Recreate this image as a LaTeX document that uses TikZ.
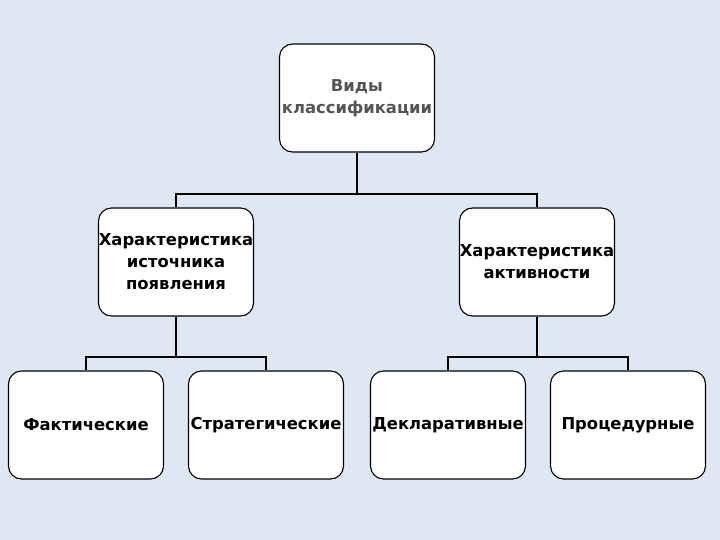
\documentclass[tikz,border=0pt]{standalone}
\usepackage{fontspec}
\setmainfont{DejaVu Sans}
\definecolor{bgblue}{RGB}{223,231,243}
\definecolor{topgray}{RGB}{85,85,85}
\begin{document}
\begin{tikzpicture}[x=1pt,y=-1pt,
  box/.style={draw=black, line width=1.1pt, fill=white, rounded corners=13pt,
    minimum width=155pt, minimum height=108pt, inner sep=0pt, align=center,
    font=\fontsize{16.4}{22}\selectfont\bfseries},
  conn/.style={draw=black, line width=2pt}]
\fill[bgblue] (0,0) rectangle (720,540);
\useasboundingbox (0,0) rectangle (720,540);
\node[box, text=topgray] (top) at (357,98) {Виды\\классификации};
\node[box] (ml) at (176,262) {Характеристика\\источника\\появления};
\node[box] (mr) at (537,262) {Характеристика\\активности};
\node[box] (b1) at (86,425) {Фактические};
\node[box] (b2) at (266,425) {Стратегические};
\node[box] (b3) at (448,425) {Декларативные};
\node[box] (b4) at (628,425) {Процедурные};
\coordinate (bus0) at (357,194);
\coordinate (bus1) at (176,357);
\coordinate (bus2) at (537,357);
\draw[conn] (top.south) -- (bus0) -| (ml.north);
\draw[conn] (bus0) -| (mr.north);
\draw[conn] (ml.south) -- (bus1) -| (b1.north);
\draw[conn] (bus1) -| (b2.north);
\draw[conn] (mr.south) -- (bus2) -| (b3.north);
\draw[conn] (bus2) -| (b4.north);
\end{tikzpicture}
\end{document}
